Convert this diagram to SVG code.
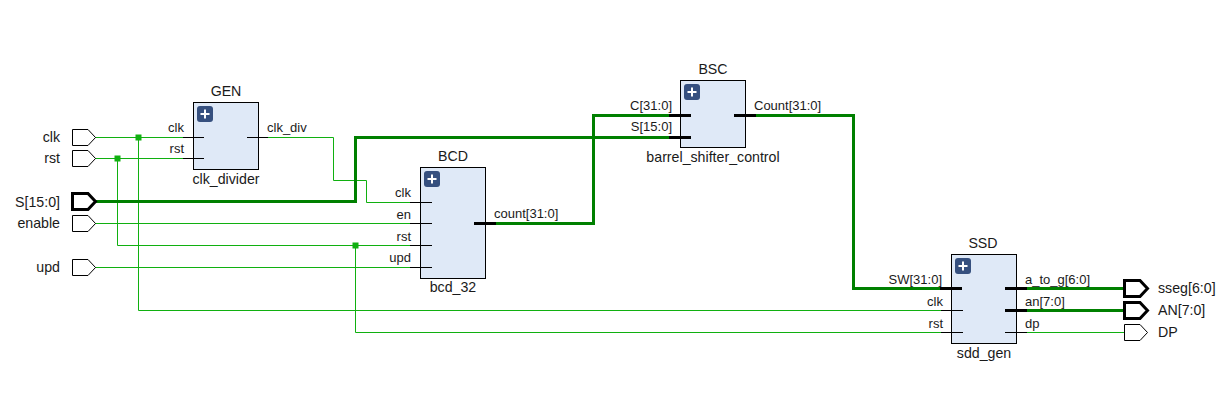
<svg xmlns="http://www.w3.org/2000/svg" width="1226" height="408" viewBox="0 0 1226 408">
<style>
text{font-family:"Liberation Sans",Arial,sans-serif;font-size:14.2px;fill:#1a1a1a}
.t{font-size:13px}
.e{text-anchor:end}.m{text-anchor:middle}
.w{fill:none;stroke:#10b010;stroke-width:1}
.b{fill:none;stroke:#008000;stroke-width:3}
.box{fill:#dfe9f7;stroke:#000;stroke-width:1}
.s{stroke:#000;stroke-width:1;fill:none}
.sb{stroke:#000;stroke-width:3;fill:none}
.p{fill:#fff;stroke:#000;stroke-width:1}
.pb{fill:#fff;stroke:#000;stroke-width:3}
.ic{fill:#36507f}
.pl{stroke:#fff;stroke-width:2;fill:none}
.j{fill:#10b010}
</style>
<defs>
<g id="plus"><rect class="ic" width="16" height="16" rx="3"/><path class="pl" d="M8 3.500V12.500M3.500 8H12.500"/></g>
</defs>
<g id="connectors">
<path class="w" d="M95 137.500H204M138.500 137.500V310.500H951"/>
<path class="w" d="M95 158.500H193M117.500 158.500V245.500H421M355.500 245.500V332.500H951"/>
<path class="w" d="M268 137.500H333.500V180.500H366.500V202.500H421"/>
<path class="w" d="M95 223.500H421"/>
<path class="w" d="M95 267.500H421"/>
<path class="b" d="M95 201.500H355.500V137.500H680"/>
<path class="b" d="M485 223.500H593.500V115.500H680"/>
<path class="b" d="M745 115.500H853.500V288.500H951"/>
<path class="b" d="M1016 288.500H1124"/>
<path class="b" d="M1016 310.500H1124"/>
<path class="w" d="M1016 332.500H1124"/>
<rect class="j" x="135.500" y="134.500" width="6" height="6"/>
<rect class="j" x="114.500" y="155.500" width="6" height="6"/>
<rect class="j" x="352.500" y="242.500" width="6" height="6"/>
</g>
<g id="port_clk"><path class="p" d="M72.500 129.500H88L95.500 137.500L88 145.500H72.500Z"/><text class="e" x="60" y="142">clk</text></g>
<g id="port_rst"><path class="p" d="M72.500 150.500H88L95.500 158.500L88 166.500H72.500Z"/><text class="e" x="60" y="163">rst</text></g>
<g id="port_S"><path class="pb" d="M72.500 193.500H88L95.500 201.500L88 209.500H72.500Z"/><text class="e" x="60" y="207">S[15:0]</text></g>
<g id="port_enable"><path class="p" d="M72.500 215.500H88L95.500 223.500L88 231.500H72.500Z"/><text class="e" x="60" y="228">enable</text></g>
<g id="port_upd"><path class="p" d="M72.500 259.500H88L95.500 267.500L88 275.500H72.500Z"/><text class="e" x="60" y="272">upd</text></g>
<g id="GEN">
<rect class="box" x="193.500" y="102.500" width="65" height="67"/>
<use href="#plus" x="197" y="106"/>
<path class="s" d="M183 137.500H204M183 158.500H204M247 137.500H268"/>
<text class="m" x="226" y="96">GEN</text>
<text class="e t" x="184" y="132">clk</text>
<text class="e t" x="184" y="153">rst</text>
<text class="t" x="267" y="132">clk_div</text>
<text class="m" x="226" y="184">clk_divider</text>
</g>
<g id="BCD">
<rect class="box" x="420.500" y="167.500" width="65" height="111"/>
<use href="#plus" x="424" y="171"/>
<path class="s" d="M410 202.500H432M410 223.500H432M410 245.500H432M410 267.500H432"/>
<path class="sb" d="M474 223.500H496"/>
<text class="m" x="453" y="161">BCD</text>
<text class="e t" x="411" y="197">clk</text>
<text class="e t" x="411" y="219">en</text>
<text class="e t" x="411" y="241">rst</text>
<text class="e t" x="411" y="262">upd</text>
<text class="t" x="494" y="218">count[31:0]</text>
<text class="m" x="453" y="292">bcd_32</text>
</g>
<g id="BSC">
<rect class="box" x="680.500" y="80.500" width="65" height="67"/>
<use href="#plus" x="684" y="84"/>
<path class="sb" d="M669 115.500H691M669 137.500H691M734 115.500H756"/>
<text class="m" x="713" y="74">BSC</text>
<text class="e t" x="672" y="110">C[31:0]</text>
<text class="e t" x="672" y="131">S[15:0]</text>
<text class="t" x="754" y="110">Count[31:0]</text>
<text class="m" x="713" y="162">barrel_shifter_control</text>
</g>
<g id="SSD">
<rect class="box" x="951.500" y="254.500" width="65" height="89"/>
<use href="#plus" x="955" y="258"/>
<path class="sb" d="M940 288.500H962M1005 288.500H1027M1005 310.500H1027"/>
<path class="s" d="M941 310.500H963M941 332.500H963M1005 332.500H1027"/>
<text class="m" x="983" y="248">SSD</text>
<text class="e t" x="942" y="284">SW[31:0]</text>
<text class="e t" x="943" y="306">clk</text>
<text class="e t" x="943" y="328">rst</text>
<text class="t" x="1025" y="284">a_to_g[6:0]</text>
<text class="t" x="1025" y="306">an[7:0]</text>
<text class="t" x="1025" y="328">dp</text>
<text class="m" x="984" y="358">sdd_gen</text>
</g>
<g id="port_sseg"><path class="pb" d="M1124.500 280.500H1140L1147.500 288.500L1140 296.500H1124.500Z"/><text x="1158" y="293">sseg[6:0]</text></g>
<g id="port_AN"><path class="pb" d="M1124.500 302.500H1140L1147.500 310.500L1140 318.500H1124.500Z"/><text x="1158" y="315">AN[7:0]</text></g>
<g id="port_DP"><path class="p" d="M1124.500 324.500H1140L1147.500 332.500L1140 340.500H1124.500Z"/><text x="1158" y="337">DP</text></g>
</svg>
